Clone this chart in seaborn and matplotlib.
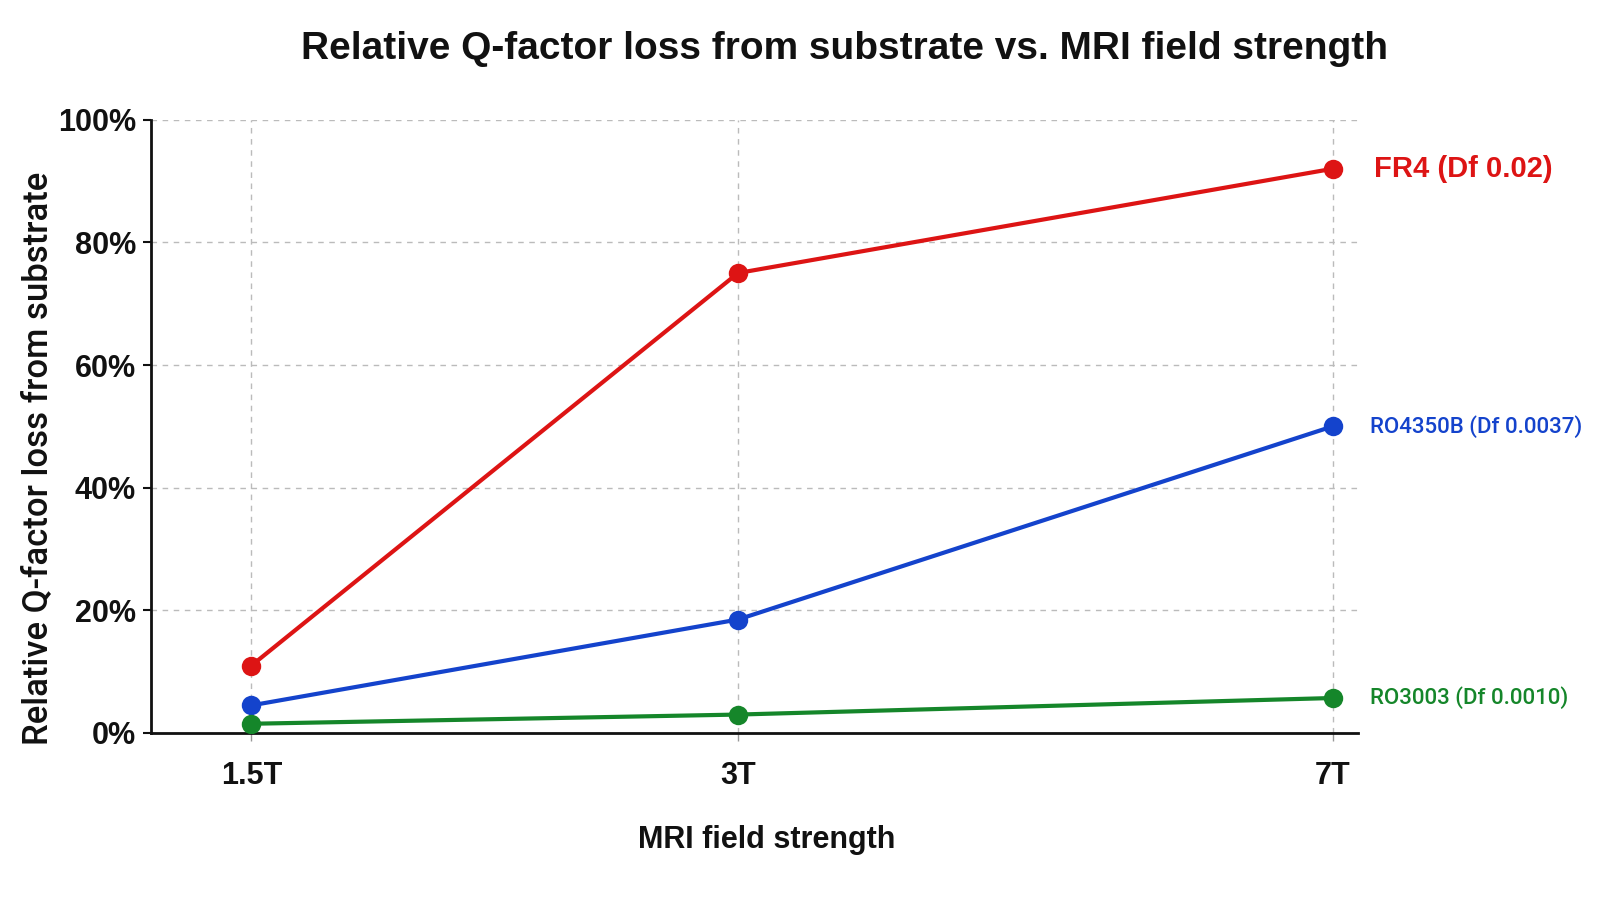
import matplotlib
matplotlib.use("Agg")
import matplotlib.pyplot as plt
import matplotlib.ticker as mticker
import seaborn as sns
import pandas as pd

# Data
field_labels = ["1.5T", "3T", "7T"]
field_tesla = [1.5, 3.0, 7.0]
fr4_loss = [11.0, 75.0, 92.0]
ro4350b_loss = [4.5, 18.5, 50.0]
ro3003_loss = [1.5, 3.0, 5.7]
series_names = ["FR4 (Df 0.02)", "RO4350B (Df 0.0037)", "RO3003 (Df 0.0010)"]
series_colors = ["#dd1414", "#1443cc", "#15862a"]
y_ticks = [0, 20, 40, 60, 80, 100]

rows = []
for name, vals in zip(series_names, [fr4_loss, ro4350b_loss, ro3003_loss]):
    for f, v in zip(field_tesla, vals):
        rows.append({"field": f, "loss": v, "substrate": name})
df = pd.DataFrame(rows)

sns.set_theme(style="white")
plt.rcParams["font.family"] = ["Liberation Sans", "DejaVu Sans"]
roboto = ["Roboto", "Liberation Sans", "DejaVu Sans"]

fig = plt.figure(figsize=(16, 9), dpi=100)
ax = fig.add_axes([0.0944, 0.1856, 0.7546, 0.6814])

sns.lineplot(data=df, x="field", y="loss", hue="substrate",
             palette=dict(zip(series_names, series_colors)),
             marker="o", markersize=14, markeredgewidth=0, linewidth=3.0,
             legend=False, ax=ax, zorder=3)

ax.set_xscale("log")
ax.set_xlim(1.30, 7.26)
ax.set_ylim(0, 100)
ax.xaxis.set_major_locator(mticker.FixedLocator(field_tesla))
ax.xaxis.set_major_formatter(mticker.FixedFormatter(field_labels))
ax.xaxis.set_minor_locator(mticker.NullLocator())
ax.set_yticks(y_ticks)
ax.set_yticklabels([f"{t}%" for t in y_ticks])

ax.grid(True, which="major", linestyle=(0, (4, 4)), color="#bbbbbb", linewidth=1.0)
for s in ["top", "right"]:
    ax.spines[s].set_visible(False)
for s in ["left", "bottom"]:
    ax.spines[s].set_color("#111111")
    ax.spines[s].set_linewidth(2.0)

ax.tick_params(axis="y", which="major", left=True, length=6, width=1.5, color="#111111", pad=5)
ax.tick_params(axis="x", which="major", bottom=True, length=6, width=1.0, color="#999999", pad=14)
for lbl in ax.get_yticklabels() + ax.get_xticklabels():
    lbl.set_fontweight("bold")
    lbl.set_fontsize(22)
    lbl.set_color("#111111")

ax.set_xlabel("MRI field strength", fontsize=22, fontweight="bold",
              color="#111111", va="top")
ax.xaxis.set_label_coords(0.51, -0.15)
ax.set_ylabel("Relative Q-factor loss from substrate", fontsize=25, family=roboto,
              fontweight="medium", color="#111111", va="center")
ax.yaxis.set_label_coords(-0.093, 0.447)

fig.text(0.528, 0.946, "Relative Q-factor loss from substrate vs. MRI field strength",
         ha="center", va="center", fontsize=28, fontweight="bold", color="#111111")

weights = ["bold", "medium", "medium"]
sizes = [21, 16, 16]
fams = [["Liberation Sans", "DejaVu Sans"], roboto, roboto]
offsets = [30, 27, 27]
for name, vals, c, w, sz, fam, off in zip(series_names, [fr4_loss, ro4350b_loss, ro3003_loss],
                                          series_colors, weights, sizes, fams, offsets):
    ax.annotate(name, xy=(field_tesla[-1], vals[-1]), xytext=(off, 0),
                textcoords="offset points", va="center", ha="left",
                color=c, fontsize=sz, fontweight=w, family=fam,
                annotation_clip=False)

fig.savefig("out.png", dpi=100, facecolor="white")
